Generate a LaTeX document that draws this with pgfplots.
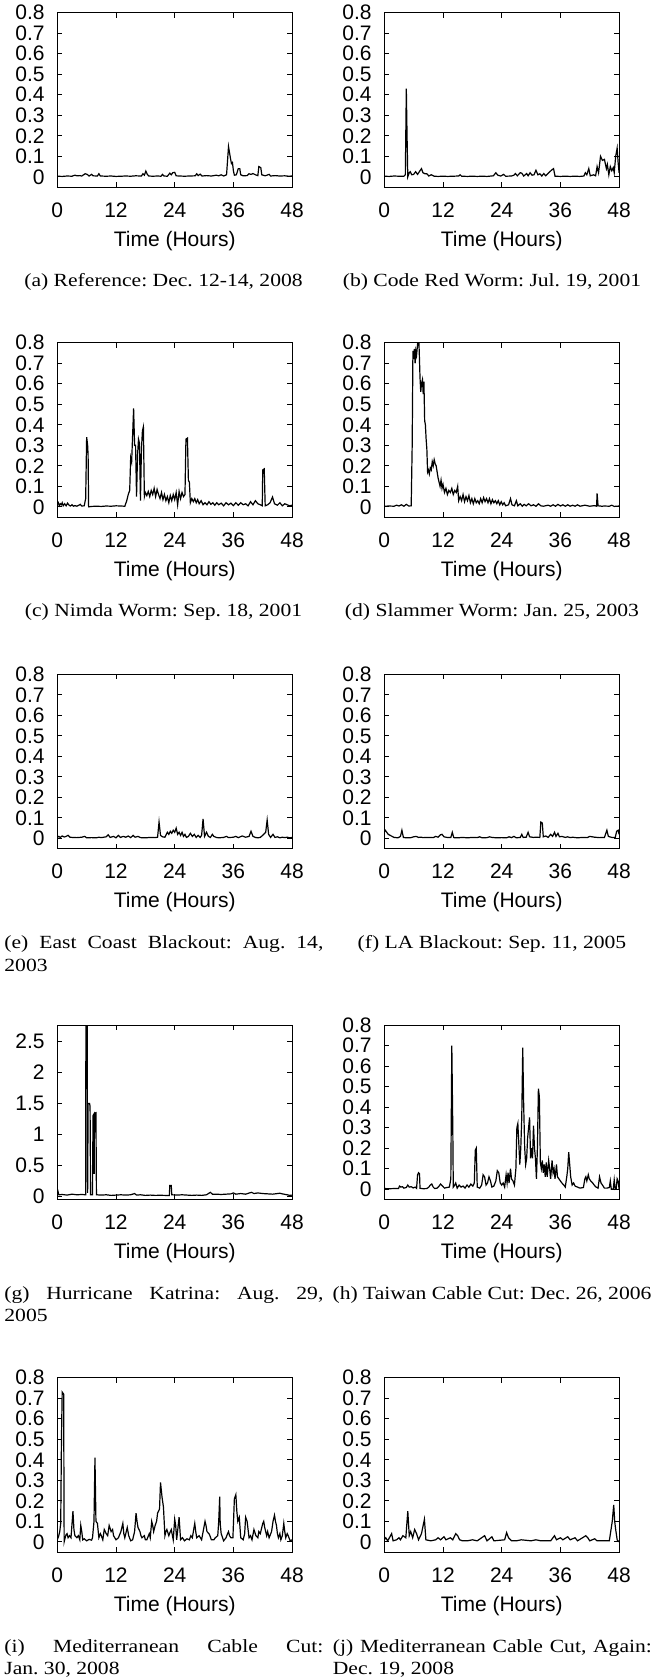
\documentclass[border=0pt]{standalone}
\usepackage{fontspec}
\setmainfont{Liberation Serif}
\newfontfamily\axfont{Liberation Sans}
\usepackage{graphicx}
\usepackage{pgfplots}
\pgfplotsset{compat=1.18}
\pgfplotsset{
 panel/.style={
  scale only axis, width=117.4pt, height=87.2pt,
  anchor=north west,
  xmin=0, xmax=48, ymin=-0.05, ymax=0.8,
  xtick={0,12,24,36,48},
  ytick={0,0.1,0.2,0.3,0.4,0.5,0.6,0.7,0.8},
  tick align=inside, tick pos=both,
  major tick length=2.5pt,
  tick style={black, line width=0.5pt},
  axis line style={line width=0.5pt},
  font=\axfont\fontsize{10.5}{12}\selectfont,
  /pgf/number format/assume math mode=true,
  xticklabel style={anchor=base, yshift=-15pt},
  yticklabel style={xshift=-2.8pt},
  xlabel={Time (Hours)},
  xlabel style={at={(axis description cs:0.5,0)}, anchor=base, yshift=-29.5pt},
 },
 trace/.style={black, mark=none, line width=0.6pt},
}
\tikzset{
 onecap/.style={anchor=base, inner sep=0pt, font=\fontsize{10.8}{12}\selectfont\frenchspacing},
 leftcap/.style={anchor=base west, inner sep=0pt, font=\fontsize{10.8}{12}\selectfont\frenchspacing},
}
\newcommand{\sq}[1]{\scalebox{1}[0.86]{#1}}
\newcommand{\jline}[1]{\sq{\makebox[159.5pt][s]{#1}}}
\begin{document}
\begin{tikzpicture}
\path[use as bounding box] (0,0) rectangle (329.5pt,-840pt);
% (a)
\begin{axis}[panel, at={(28.65pt,-6.35pt)}]
\addplot[trace] coordinates {(0,0.003)(1,0.002)(2,0.004)(3,0.003)(3.6,0.008)(4,0.005)(4.5,0.006)(5,0.004)(5.7,0.015)(6.1,0.012)(6.5,0.004)(7,0.012)(7.3,0.005)(8.2,0.004)(8.5,0.015)(8.8,0.004)(10,0.003)(11,0.004)(12,0.002)(13,0.003)(14,0.004)(15,0.003)(16,0.005)(17.2,0.004)(17.5,0.015)(17.8,0.008)(18.1,0.028)(18.4,0.012)(18.7,0.004)(19.5,0.003)(20.5,0.004)(21.2,0.003)(21.5,0.012)(21.8,0.004)(22.5,0.003)(23,0.018)(23.3,0.01)(23.6,0.02)(24,0.022)(24.3,0.005)(25,0.004)(26,0.003)(27,0.004)(28.2,0.005)(28.5,0.015)(28.8,0.006)(29.2,0.013)(29.6,0.004)(30.5,0.006)(31.5,0.004)(32.5,0.008)(33,0.005)(33.5,0.01)(34,0.004)(34.6,0.01)(35.0,0.147)(35.4,0.09)(35.6,0.065)(35.8,0.07)(36.0,0.03)(36.2,0.008)(36.6,0.01)(37.0,0.04)(37.3,0.04)(37.5,0.01)(38,0.005)(38.8,0.006)(39.2,0.015)(39.6,0.012)(40,0.016)(40.5,0.01)(41,0.006)(41.2,0.05)(41.6,0.045)(41.8,0.01)(42.5,0.005)(43.3,0.012)(43.6,0.004)(44.5,0.006)(45.5,0.004)(46.5,0.005)(47.3,0.003)(48,0.004)};
\end{axis}
% (b)
\begin{axis}[panel, at={(192.15pt,-6.35pt)}]
\addplot[trace] coordinates {(0,0.003)(1,0.002)(2,0.004)(3,0.003)(4,0.003)(4.3,0.01)(4.5,0.43)(4.65,0.2)(4.8,0.0)(5.1,0.02)(5.3,0.025)(5.6,0.01)(6,0.012)(6.4,0.025)(6.8,0.012)(7.3,0.03)(7.6,0.04)(7.9,0.02)(8.3,0.015)(8.7,0.015)(9.1,0.004)(9.6,0.01)(10.2,0.003)(11,0.002)(12,0.003)(13,0.002)(14,0.003)(15.2,0.004)(15.5,0.01)(15.8,0.003)(17,0.002)(18,0.003)(19,0.002)(20,0.003)(21,0.002)(22.3,0.005)(22.8,0.02)(23.2,0.008)(23.8,0.004)(24.4,0.012)(24.8,0.003)(26,0.004)(26.5,0.008)(26.8,0.016)(27.2,0.005)(27.8,0.02)(28.1,0.018)(28.5,0.004)(29.1,0.016)(29.4,0.005)(29.8,0.02)(30.2,0.008)(30.6,0.01)(31,0.032)(31.4,0.01)(31.8,0.015)(32.2,0.004)(32.6,0.016)(33,0.005)(33.6,0.02)(34.3,0.035)(34.6,0.04)(34.9,0.003)(36,0.002)(37,0.003)(38,0.002)(39,0.003)(40,0.002)(40.8,0.004)(41.1,0.02)(41.4,0.01)(41.8,0.04)(42.1,0.005)(42.8,0.01)(43.2,0.005)(43.5,0.05)(43.8,0.02)(44.2,0.1)(44.6,0.08)(45,0.085)(45.4,0.04)(45.6,0.06)(45.9,0.01)(46.2,0.05)(46.5,0.03)(46.8,0.045)(47.0,0.02)(47.3,0.1)(47.6,0.14)(47.8,0.07)(48,0.02)};
\end{axis}
% (c)
\begin{axis}[panel, at={(28.65pt,-171.35pt)}]
\addplot[trace] coordinates {(0,0.01)(0.2,0.02)(0.4,0.005)(0.6,0.015)(0.8,0.01)(1.0,0.02)(1.2,0.005)(1.5,0.015)(1.8,0.005)(2.1,0.018)(2.4,0.008)(2.7,0.004)(3.0,0.01)(3.3,0.003)(3.6,0.006)(4.0,0.003)(4.4,0.008)(4.7,0.012)(5.0,0.004)(5.5,0.005)(5.8,0.04)(6.0,0.34)(6.2,0.3)(6.3,0.25)(6.4,0.0)(7,0.002)(8,0.003)(9,0.002)(10,0.004)(11,0.003)(12,0.005)(13,0.004)(13.8,0.003)(14.2,0.03)(14.5,0.06)(14.8,0.08)(15.0,0.24)(15.2,0.22)(15.4,0.35)(15.6,0.48)(15.8,0.3)(16.0,0.3)(16.2,0.05)(16.4,0.25)(16.6,0.33)(16.8,0.31)(17.0,0.03)(17.2,0.28)(17.4,0.37)(17.6,0.39)(17.8,0.05)(18.0,0.07)(18.3,0.055)(18.6,0.075)(18.9,0.05)(19.2,0.08)(19.5,0.06)(19.8,0.09)(20.1,0.05)(20.4,0.085)(20.7,0.06)(21.0,0.04)(21.3,0.07)(21.6,0.035)(21.9,0.06)(22.2,0.03)(22.5,0.05)(22.8,0.02)(23.1,0.055)(23.4,0.03)(23.7,0.06)(24.0,0.035)(24.3,0.07)(24.6,0.01)(24.9,0.075)(25.2,0.04)(25.5,0.07)(25.8,0.05)(26.1,0.06)(26.3,0.33)(26.6,0.335)(26.8,0.13)(27.0,0.12)(27.2,0.02)(27.5,0.04)(27.8,0.025)(28.1,0.04)(28.4,0.02)(28.7,0.035)(29.0,0.015)(29.4,0.03)(29.8,0.01)(30.2,0.02)(30.6,0.01)(31.0,0.025)(31.4,0.012)(31.8,0.02)(32.2,0.008)(32.6,0.02)(33.0,0.01)(33.5,0.018)(34.0,0.005)(34.5,0.02)(35.0,0.01)(35.5,0.018)(36.0,0.006)(36.5,0.02)(37.0,0.008)(37.5,0.02)(38.0,0.01)(38.5,0.015)(39.0,0.005)(39.5,0.025)(40.0,0.01)(40.5,0.03)(41.0,0.015)(41.5,0.01)(41.9,0.005)(42.0,0.18)(42.3,0.185)(42.5,0.005)(43.0,0.01)(43.5,0.02)(44.0,0.048)(44.4,0.015)(45.0,0.008)(45.5,0.02)(46.0,0.005)(46.5,0.015)(47.0,0.01)(47.5,0.005)(48.0,0.008)};
\end{axis}
% (d)
\begin{axis}[panel, at={(192.15pt,-171.35pt)}]
\addplot[trace] coordinates {(0,0.003)(1,0.004)(2,0.003)(2.5,0.008)(3,0.004)(3.5,0.01)(4,0.003)(4.5,0.012)(5,0.004)(5.5,0.005)(5.7,0.3)(5.85,0.76)(6.0,0.72)(6.15,0.77)(6.3,0.7)(6.45,0.76)(6.6,0.74)(6.75,0.78)(6.9,0.82)(7.0,0.85)(7.15,0.75)(7.3,0.63)(7.45,0.56)(7.6,0.6)(7.8,0.62)(7.95,0.55)(8.1,0.61)(8.25,0.42)(8.4,0.4)(8.55,0.33)(8.7,0.28)(8.85,0.17)(9.0,0.18)(9.2,0.16)(9.4,0.19)(9.6,0.18)(9.8,0.22)(10.0,0.2)(10.2,0.23)(10.4,0.21)(10.6,0.2)(10.8,0.17)(11.0,0.14)(11.2,0.12)(11.4,0.1)(11.6,0.13)(11.8,0.09)(12.0,0.11)(12.3,0.07)(12.6,0.09)(12.9,0.06)(13.2,0.08)(13.5,0.07)(13.8,0.09)(14.1,0.06)(14.4,0.08)(14.7,0.07)(15.0,0.1)(15.2,0.03)(15.5,0.05)(15.8,0.03)(16.1,0.06)(16.4,0.025)(16.7,0.05)(17.0,0.03)(17.3,0.055)(17.6,0.02)(17.9,0.04)(18.2,0.015)(18.5,0.04)(18.8,0.02)(19.1,0.03)(19.4,0.015)(19.7,0.04)(20.0,0.02)(20.3,0.045)(20.6,0.025)(20.9,0.04)(21.2,0.02)(21.5,0.04)(21.8,0.015)(22.1,0.035)(22.4,0.02)(22.7,0.03)(23.0,0.015)(23.3,0.03)(23.6,0.01)(23.9,0.025)(24.2,0.01)(24.5,0.02)(24.8,0.005)(25.4,0.01)(25.8,0.04)(26.1,0.01)(26.6,0.005)(27.0,0.03)(27.3,0.005)(27.8,0.015)(28.2,0.003)(28.6,0.012)(29.0,0.005)(29.5,0.015)(30.0,0.005)(30.5,0.01)(31.0,0.003)(31.5,0.015)(32.0,0.005)(32.5,0.003)(33.5,0.008)(34.0,0.003)(34.5,0.01)(35.0,0.003)(35.5,0.012)(36.0,0.004)(36.5,0.01)(37.0,0.003)(37.5,0.01)(38.0,0.003)(38.5,0.008)(39.0,0.003)(39.5,0.01)(40.0,0.003)(41.0,0.008)(42.0,0.003)(43.0,0.006)(43.4,0.003)(43.5,0.065)(43.7,0.005)(44.5,0.003)(45,0.004)(46,0.003)(46.5,0.008)(47,0.002)(47.5,0.003)(48,0.004)};
\end{axis}
% (e)
\begin{axis}[panel, at={(28.65pt,-337.15pt)}]
\addplot[trace] coordinates {(0,0.005)(0.3,0.01)(0.6,0.005)(1,0.012)(1.4,0.007)(1.8,0.01)(2.2,0.015)(2.6,0.006)(3,0.005)(4,0.004)(5,0.006)(5.6,0.01)(6,0.003)(7,0.004)(8,0.003)(8.5,0.006)(9,0.004)(10,0.008)(10.4,0.018)(10.8,0.005)(11.5,0.01)(12,0.003)(12.5,0.015)(12.9,0.005)(13.5,0.01)(14,0.006)(14.5,0.012)(15,0.004)(15.5,0.015)(15.9,0.006)(16.5,0.01)(17,0.004)(18,0.003)(19,0.005)(20,0.004)(20.5,0.006)(20.8,0.08)(21.1,0.015)(21.5,0.008)(22,0.006)(22.5,0.03)(22.8,0.02)(23.1,0.035)(23.4,0.025)(23.7,0.04)(24.0,0.03)(24.3,0.05)(24.6,0.02)(24.9,0.03)(25.2,0.015)(25.5,0.03)(25.8,0.01)(26.1,0.02)(26.4,0.005)(26.8,0.01)(27.2,0.025)(27.6,0.01)(28,0.02)(28.4,0.005)(28.8,0.015)(29.2,0.005)(29.5,0.015)(29.8,0.095)(30.1,0.01)(30.5,0.03)(30.9,0.01)(31.3,0.005)(31.7,0.02)(32,0.01)(32.5,0.005)(33,0.003)(34,0.005)(34.6,0.01)(35,0.004)(36,0.006)(36.5,0.01)(37,0.004)(37.8,0.012)(38.5,0.006)(39.2,0.01)(39.6,0.035)(40,0.01)(40.5,0.005)(41,0.003)(41.5,0.005)(42.2,0.02)(42.6,0.03)(42.9,0.09)(43.2,0.02)(43.6,0.005)(44.1,0.02)(44.5,0.005)(45,0.008)(45.5,0.003)(46,0.006)(46.5,0.004)(47,0.006)(47.5,0.003)(48,0.005)};
\end{axis}
% (f)
\begin{axis}[panel, at={(192.15pt,-337.15pt)}]
\addplot[trace] coordinates {(0,0.03)(0.2,0.04)(0.5,0.03)(0.8,0.02)(1.2,0.015)(1.6,0.01)(2,0.005)(2.8,0.003)(3.3,0.01)(3.6,0.04)(3.9,0.005)(4.5,0.003)(5.5,0.004)(6,0.008)(6.5,0.01)(7,0.005)(7.5,0.006)(8,0.004)(9,0.005)(10,0.004)(10.5,0.01)(11,0.006)(11.5,0.018)(11.8,0.02)(12.2,0.008)(13,0.004)(13.6,0.005)(13.9,0.03)(14.2,0.004)(15,0.003)(16,0.005)(17,0.003)(18,0.005)(19,0.004)(19.5,0.008)(20,0.003)(21,0.004)(21.5,0.008)(22,0.005)(23,0.003)(24,0.004)(25,0.003)(25.5,0.008)(26,0.004)(26.5,0.01)(27,0.003)(27.8,0.005)(28.1,0.02)(28.4,0.005)(29,0.006)(29.4,0.03)(29.7,0.008)(30.5,0.005)(31,0.006)(31.8,0.005)(32.0,0.08)(32.3,0.075)(32.5,0.008)(33,0.012)(33.5,0.005)(34,0.02)(34.4,0.01)(34.8,0.03)(35.1,0.01)(35.5,0.025)(35.8,0.008)(36.3,0.01)(37,0.005)(37.5,0.008)(38,0.004)(38.5,0.006)(39.5,0.003)(40.5,0.005)(41.5,0.004)(42,0.01)(42.5,0.008)(43,0.006)(44,0.004)(45,0.005)(45.5,0.04)(45.8,0.01)(46.5,0.005)(47.2,0.004)(47.5,0.035)(47.8,0.04)(48,0.02)};
\end{axis}
% (g)
\begin{axis}[panel, at={(28.65pt,-512.5pt)}, ymin=-0.055, ymax=2.77, ytick={0,0.5,1,1.5,2,2.5}]
\addplot[trace] coordinates {(0,0.08)(0.1,0.09)(0.3,0.02)(1,0.025)(2,0.015)(3,0.03)(4,0.02)(5,0.025)(5.8,0.02)(5.85,3.0)(6.1,3.0)(6.2,0.05)(6.3,1.5)(6.6,1.5)(6.7,1.45)(6.8,0.02)(7.2,0.02)(7.3,1.3)(7.5,1.33)(7.55,0.36)(7.6,1.34)(7.9,1.35)(8.0,0.02)(9,0.015)(10,0.02)(11,0.01)(12,0.015)(13,0.02)(14,0.015)(15,0.02)(15.8,0.04)(16.2,0.015)(17,0.02)(18,0.01)(19,0.015)(20,0.01)(21,0.012)(22,0.01)(22.9,0.01)(23.0,0.17)(23.3,0.17)(23.4,0.02)(24.5,0.015)(25.5,0.02)(26.5,0.015)(27.5,0.01)(28.5,0.015)(29.5,0.01)(30.5,0.02)(31.3,0.06)(31.7,0.03)(32.5,0.03)(33.5,0.025)(34.5,0.03)(35.5,0.035)(36,0.05)(36.5,0.03)(37.5,0.04)(38.5,0.03)(39.3,0.05)(39.7,0.06)(40.2,0.04)(41,0.05)(42,0.04)(43,0.035)(44,0.03)(45,0.04)(45.5,0.045)(46,0.035)(47,0.02)(47.5,0.01)(48,0.015)};
\end{axis}
% (h)
\begin{axis}[panel, at={(192.15pt,-512.5pt)}]
\addplot[trace] coordinates {(0,0.003)(1,0.002)(2,0.003)(2.9,0.003)(3.1,0.015)(3.4,0.01)(3.7,0.012)(4,0.005)(4.5,0.008)(4.8,0.02)(5.1,0.01)(5.5,0.012)(5.9,0.006)(6.3,0.01)(6.6,0.004)(6.8,0.07)(7.0,0.08)(7.2,0.075)(7.3,0.004)(8,0.002)(8.7,0.003)(9.1,0.01)(9.4,0.02)(9.7,0.025)(10.0,0.01)(10.3,0.003)(10.8,0.005)(11.2,0.015)(11.5,0.025)(11.9,0.015)(12.3,0.005)(12.8,0.008)(13.3,0.01)(13.6,0.05)(13.8,0.70)(14.0,0.30)(14.1,0.01)(14.4,0.02)(14.6,0.03)(14.9,0.005)(15.3,0.02)(15.7,0.01)(16.1,0.015)(16.5,0.005)(16.9,0.02)(17.3,0.01)(17.7,0.025)(18.1,0.015)(18.4,0.03)(18.6,0.19)(18.8,0.2)(19.0,0.01)(19.5,0.005)(19.9,0.02)(20.2,0.07)(20.5,0.06)(20.8,0.02)(21.1,0.03)(21.4,0.06)(21.7,0.04)(22.0,0.01)(22.4,0.015)(22.8,0.04)(23.1,0.09)(23.4,0.08)(23.7,0.03)(24.0,0.02)(24.3,0.03)(24.6,0.01)(24.9,0.07)(25.1,0.03)(25.3,0.08)(25.5,0.03)(25.8,0.1)(26.0,0.05)(26.3,0.04)(26.6,0.02)(26.9,0.1)(27.1,0.3)(27.3,0.32)(27.5,0.22)(27.7,0.12)(27.9,0.2)(28.1,0.35)(28.3,0.69)(28.5,0.4)(28.7,0.2)(28.9,0.12)(29.1,0.15)(29.3,0.25)(29.5,0.3)(29.7,0.35)(29.9,0.15)(30.1,0.2)(30.3,0.15)(30.5,0.31)(30.7,0.2)(30.9,0.15)(31.1,0.05)(31.3,0.2)(31.5,0.49)(31.7,0.45)(31.9,0.13)(32.1,0.1)(32.3,0.14)(32.5,0.08)(32.7,0.12)(32.9,0.06)(33.1,0.13)(33.3,0.06)(33.6,0.14)(33.8,0.1)(34.0,0.05)(34.3,0.14)(34.5,0.08)(34.7,0.1)(34.9,0.05)(35.2,0.12)(35.4,0.06)(35.7,0.05)(36.0,0.04)(36.3,0.03)(36.7,0.02)(37.0,0.01)(37.3,0.06)(37.5,0.1)(37.7,0.18)(37.9,0.12)(38.1,0.06)(38.4,0.02)(38.7,0.03)(39.0,0.015)(39.5,0.01)(40.0,0.005)(40.7,0.008)(41.0,0.05)(41.2,0.06)(41.4,0.04)(41.7,0.07)(41.9,0.05)(42.2,0.04)(42.6,0.03)(42.9,0.02)(43.3,0.01)(43.7,0.005)(44.0,0.06)(44.3,0.03)(44.6,0.02)(45.0,0.005)(45.5,0.005)(46.0,0.008)(46.2,0.04)(46.4,0.0)(46.8,0.0)(47.0,0.045)(47.2,0.0)(47.4,0.003)(47.6,0.05)(47.8,0.04)(48,0.0)};
\end{axis}
% (i)
\begin{axis}[panel, at={(28.65pt,-688.85pt)}]
\addplot[trace] coordinates {(0,0.01)(0.3,0.03)(0.5,0.05)(0.7,0.09)(0.85,0.5)(1.0,0.73)(1.3,0.72)(1.4,0.0)(1.6,0.02)(1.8,0.035)(2,0.04)(2.2,0.02)(2.5,0.03)(2.8,0.02)(3.2,0.15)(3.4,0.06)(3.6,0.03)(4,0.02)(4.3,0.03)(4.6,0.01)(4.8,0.08)(5.0,0.05)(5.2,0.01)(5.5,0.015)(6,0.005)(6.5,0.012)(7,0.008)(7.2,0.02)(7.5,0.1)(7.7,0.41)(7.9,0.1)(8.2,0.09)(8.5,0.02)(8.8,0.04)(9,0.03)(9.3,0.01)(9.6,0.06)(10,0.04)(10.3,0.03)(10.6,0.08)(11,0.05)(11.3,0.06)(11.5,0.03)(12,0.01)(12.5,0.02)(13,0.05)(13.4,0.09)(13.6,0.04)(13.8,0.02)(14.3,0.07)(14.6,0.03)(15,0.005)(15.4,0.01)(15.8,0.05)(16.1,0.14)(16.3,0.1)(16.5,0.07)(16.9,0.05)(17.1,0.03)(17.3,0.02)(17.8,0.03)(18.0,0.01)(18.3,0.01)(18.8,0.04)(19.0,0.02)(19.3,0.1)(19.5,0.08)(19.7,0.05)(20,0.08)(20.3,0.1)(20.5,0.14)(20.9,0.16)(21.1,0.29)(21.4,0.22)(21.7,0.17)(22,0.03)(22.2,0.05)(22.4,0.06)(22.8,0.03)(23.1,0.05)(23.3,0.06)(23.7,0.01)(24.0,0.11)(24.2,0.08)(24.4,0.01)(24.9,0.12)(25.2,0.01)(25.6,0.02)(26,0.005)(26.5,0.015)(27,0.01)(27.3,0.03)(27.6,0.02)(28.1,0.09)(28.3,0.05)(28.5,0.02)(29,0.03)(29.5,0.01)(30.2,0.1)(30.4,0.08)(30.6,0.05)(31,0.04)(31.2,0.03)(31.5,0.01)(32.0,0.01)(32.3,0.02)(32.8,0.03)(33.0,0.1)(33.2,0.22)(33.3,0.09)(33.5,0.04)(34,0.005)(34.5,0.02)(34.8,0.04)(35,0.05)(35.2,0.03)(35.5,0.02)(35.9,0.02)(36.2,0.21)(36.5,0.23)(36.7,0.15)(36.9,0.1)(37.2,0.12)(37.5,0.02)(38,0.01)(38.3,0.04)(38.5,0.12)(38.8,0.1)(39.2,0.02)(39.5,0.03)(39.8,0.01)(40.2,0.06)(40.6,0.03)(41,0.02)(41.2,0.05)(41.5,0.04)(42,0.09)(42.2,0.1)(42.4,0.07)(42.8,0.03)(43.0,0.05)(43.3,0.02)(43.8,0.05)(44.1,0.1)(44.4,0.13)(44.6,0.1)(44.8,0.08)(45.0,0.04)(45.2,0.02)(45.5,0.04)(45.7,0.01)(46.0,0.03)(46.3,0.09)(46.5,0.05)(46.7,0.02)(47.0,0.04)(47.2,0.03)(47.6,0.005)(48,0.01)};
\end{axis}
% (j)
\begin{axis}[panel, at={(192.15pt,-688.85pt)}]
\addplot[trace] coordinates {(0,0.01)(0.3,0.02)(0.7,0.005)(1.5,0.04)(1.8,0.005)(2.5,0.01)(3,0.02)(3.3,0.01)(3.8,0.03)(4.4,0.02)(4.8,0.15)(5.1,0.03)(5.4,0.05)(5.8,0.02)(6.2,0.06)(6.6,0.04)(7,0.01)(7.6,0.04)(8.2,0.11)(8.5,0.01)(9.5,0.005)(10.5,0.01)(11,0.02)(11.5,0.01)(12.2,0.025)(12.6,0.01)(13.5,0.02)(14,0.01)(14.6,0.04)(15,0.03)(15.4,0.01)(16,0.005)(17,0.005)(18,0.01)(19,0.005)(20.5,0.03)(21,0.005)(22,0.025)(22.4,0.005)(24.6,0.01)(25.0,0.045)(25.4,0.02)(26,0.005)(27,0.005)(28,0.01)(30,0.005)(31,0.01)(32,0.005)(34,0.005)(34.8,0.03)(35.2,0.01)(36,0.02)(36.5,0.01)(37.5,0.025)(38,0.01)(39,0.02)(39.5,0.005)(41.2,0.03)(41.6,0.02)(42,0.005)(43,0.015)(43.5,0.005)(46,0.005)(46.6,0.1)(46.9,0.18)(47.1,0.1)(47.3,0.06)(47.6,0.01)(48,0.0)};
\end{axis}
% captions
\node[onecap] at (81.75pt,-143.45pt) {\sq{(a) Reference: Dec. 12-14, 2008}};
\node[onecap] at (246pt,-143.45pt) {\sq{(b) Code Red Worm: Jul. 19, 2001}};
\node[onecap] at (81.75pt,-308.45pt) {\sq{(c) Nimda Worm: Sep. 18, 2001}};
\node[onecap] at (246pt,-308.45pt) {\sq{(d) Slammer Worm: Jan. 25, 2003}};
\node[leftcap] at (2pt,-474.25pt) {\jline{(e) East Coast Blackout: Aug. 14,}};
\node[leftcap] at (2pt,-485.5pt) {\sq{2003}};
\node[onecap] at (246pt,-474.25pt) {\sq{(f) LA Blackout: Sep. 11, 2005}};
\node[leftcap] at (2pt,-649.7pt) {\jline{(g) Hurricane Katrina: Aug. 29,}};
\node[leftcap] at (2pt,-660.95pt) {\sq{2005}};
\node[onecap] at (246pt,-649.7pt) {\sq{(h) Taiwan Cable Cut: Dec. 26, 2006}};
\node[leftcap] at (2pt,-826pt) {\jline{(i) Mediterranean Cable Cut:}};
\node[leftcap] at (2pt,-837.2pt) {\sq{Jan. 30, 2008}};
\node[leftcap] at (166.25pt,-826pt) {\jline{(j) Mediterranean Cable Cut, Again:}};
\node[leftcap] at (166.25pt,-837.2pt) {\sq{Dec. 19, 2008}};
\end{tikzpicture}
\end{document}
